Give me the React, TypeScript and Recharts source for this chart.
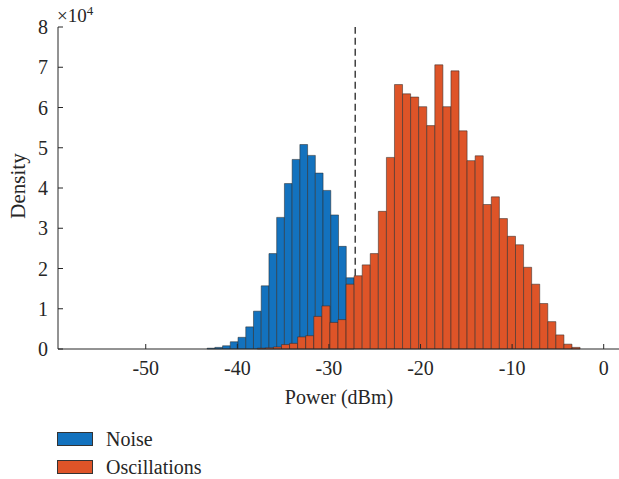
import React from 'react';
import { ComposedChart, XAxis, YAxis, ReferenceArea, Line } from 'recharts';

// x-axis ticks (dBm) and y-axis ticks (×10^4)
const xTicks = [-50, -40, -30, -20, -10, 0];
const yTicks = [0, 1, 2, 3, 4, 5, 6, 7, 8];

// Noise histogram: first bin left edge, bin width (dBm), densities (×10^4)
const noiseBinStart = -43.3;
const noiseBinWidth = 0.844;
const noiseValues = [
  0.02, 0.04, 0.08, 0.18, 0.29, 0.55, 0.94, 1.57, 2.37, 3.27,
  4.11, 4.71, 5.08, 4.81, 4.37, 3.94, 3.33, 2.55, 1.77,
];

// Oscillations histogram
const oscBinStart = -37.82;
const oscBinWidth = 0.881;
const oscValues = [
  0.02, 0.03, 0.05, 0.11, 0.14, 0.3, 0.33, 0.81, 1.07, 0.66,
  0.73, 1.61, 1.82, 2.09, 2.37, 3.42, 4.76, 6.57, 6.34, 6.26,
  6.02, 5.55, 7.06, 6.02, 6.91, 5.42, 4.68, 4.8, 3.59, 3.78,
  3.24, 2.8, 2.59, 2.03, 1.61, 1.13, 0.68, 0.35, 0.12, 0.04,
];

// Threshold (dashed line)
const threshold = -27.13;
const thresholdLine = [
  { p: threshold, d: 1.82 },
  { p: threshold, d: 8 },
];

const legendItems = [
  { name: 'Noise', color: '#1372BE' },
  { name: 'Oscillations', color: '#DE5428' },
];

const FONT = '"Liberation Serif", "Times New Roman", serif';
const TXT = '#262626';
const AX = '#262626';

const makeBins = (start: number, width: number, values: number[]) =>
  values.map((v, i) => ({ x1: start + i * width, x2: start + (i + 1) * width, v }));

const noiseBins = makeBins(noiseBinStart, noiseBinWidth, noiseValues);
const oscBins = makeBins(oscBinStart, oscBinWidth, oscValues);

const tickStyle = { fill: TXT, fontSize: 20, fontFamily: FONT };

export default function App() {
  return (
    <div
      style={{
        position: 'fixed',
        left: 0,
        top: 0,
        width: 619,
        height: 479,
        overflow: 'hidden',
        background: '#fff',
        fontFamily: FONT,
      }}
    >
      <ComposedChart
        width={622}
        height={479}
        margin={{ top: 27, right: 2, bottom: 0, left: 0 }}
      >
        <XAxis
          xAxisId={0}
          dataKey="p"
          type="number"
          domain={[-59.58, 1.78]}
          ticks={xTicks}
          allowDataOverflow
          height={130}
          stroke={AX}
          tickSize={-5}
          tickMargin={17}
          tick={tickStyle}
          tickFormatter={(v: number) => String(v)}
        />
        <XAxis
          xAxisId="top"
          orientation="top"
          type="number"
          domain={[-59.58, 1.78]}
          ticks={xTicks}
          allowDataOverflow
          height={0}
          stroke={AX}
          tickSize={-5}
          tick={false}
        />
        <YAxis
          yAxisId={0}
          type="number"
          domain={[0, 8]}
          ticks={yTicks}
          allowDataOverflow
          width={58}
          stroke={AX}
          tickSize={-5}
          tickMargin={15}
          tick={tickStyle}
        />
        <YAxis
          yAxisId="right"
          orientation="right"
          type="number"
          domain={[0, 8]}
          ticks={yTicks}
          allowDataOverflow
          width={0}
          stroke={AX}
          tickSize={-5}
          tick={false}
        />
        {noiseBins.map((b, i) => (
          <ReferenceArea
            key={'n' + i}
            x1={b.x1}
            x2={b.x2}
            y1={0}
            y2={b.v}
            fill={legendItems[0].color}
            fillOpacity={1}
            stroke="#2a2a2a"
            strokeOpacity={0.75}
            strokeWidth={0.7}
          />
        ))}
        {oscBins.map((b, i) => (
          <ReferenceArea
            key={'o' + i}
            x1={b.x1}
            x2={b.x2}
            y1={0}
            y2={b.v}
            fill={legendItems[1].color}
            fillOpacity={1}
            stroke="#2a2a2a"
            strokeOpacity={0.75}
            strokeWidth={0.7}
          />
        ))}
        <Line
          data={thresholdLine}
          dataKey="d"
          stroke="#333"
          strokeWidth={1.4}
          strokeDasharray="7 4"
          dot={false}
          activeDot={false}
          isAnimationActive={false}
          legendType="none"
        />
      </ComposedChart>

      {/* axis labels */}
      <svg
        width={619}
        height={479}
        style={{ position: 'absolute', left: 0, top: 0, pointerEvents: 'none' }}
      >
        <text x={57} y={22} fill={TXT} fontSize={19} fontFamily={FONT}>
          ×10
          <tspan dy={-7} fontSize={13}>4</tspan>
        </text>
        <text
          x={339}
          y={404}
          fill={TXT}
          fontSize={20}
          fontFamily={FONT}
          textAnchor="middle"
        >
          Power (dBm)
        </text>
        <text
          x={25}
          y={186}
          fill={TXT}
          fontSize={21}
          fontFamily={FONT}
          textAnchor="middle"
          transform="rotate(-90 25 186)"
        >
          Density
        </text>
      </svg>

      {/* legend */}
      {legendItems.map((it, i) => (
        <React.Fragment key={it.name}>
          <div
            style={{
              position: 'absolute',
              left: 57,
              top: 432 + i * 27.5,
              width: 34,
              height: 12,
              background: it.color,
              border: '1.5px solid #333',
            }}
          />
          <div
            style={{
              position: 'absolute',
              left: 106,
              top: 426 + i * 27.5,
              fontSize: 20,
              lineHeight: '26px',
              color: TXT,
              fontFamily: FONT,
            }}
          >
            {it.name}
          </div>
        </React.Fragment>
      ))}
    </div>
  );
}
